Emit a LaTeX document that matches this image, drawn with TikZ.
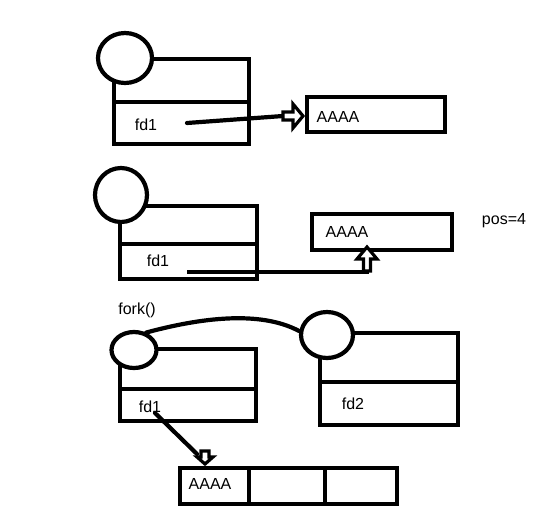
\documentclass[tikz,border=0pt]{standalone}
\usepackage{fontspec}
\setmainfont{Liberation Sans}
\usetikzlibrary{shapes.geometric}
\begin{document}
\begin{tikzpicture}[x=1pt,y=-1pt,
  box/.style={draw, line width=4.2pt, inner sep=0pt, anchor=north west},
  circ/.style={draw, ellipse, line width=4.2pt, fill=white, inner sep=0pt},
  lbl/.style={inner sep=0pt, font=\fontsize{16}{19}\selectfont},
  link/.style={line width=4.2pt, line cap=round},
  hollow/.style={draw, line width=3.2pt, line join=miter, fill=white}]
\useasboundingbox[fill=white] (0,0) rectangle (536,525);

% ---- block 1
\node[box, minimum width=135pt, minimum height=43pt] (r1a) at (112,57) {};
\node[box, minimum width=135pt, minimum height=42pt] (r1b) at (112,100) {};
\node[circ, minimum width=54pt, minimum height=50pt] (c1) at (125,58) {};
\node[box, minimum width=138pt, minimum height=35pt] (b1) at (305,95) {};
\node[lbl] (f1) at (146,125) {fd1};
\node[lbl] (s1) at (338,117) {AAAA};
\coordinate (p1) at (187,123);
\coordinate (h1) at (283,116);
\draw[link] (p1) -- (h1);
\draw[hollow] (283,112) -- (293,112) -- (293,104) -- (303,116) -- (293,128) -- (293,120) -- (283,120) -- cycle;

% ---- block 2
\node[box, minimum width=137pt, minimum height=38pt] (r2a) at (118,204) {};
\node[box, minimum width=137pt, minimum height=35pt] (r2b) at (118,242) {};
\node[circ, minimum width=52pt, minimum height=54pt] (c2) at (121,195) {};
\node[box, minimum width=140pt, minimum height=36pt] (b2) at (310,212) {};
\node[lbl] (f2) at (158,261) {fd1};
\node[lbl] (s2) at (347,232) {AAAA};
\node[lbl] (pos) at (504,221) {pos=4};
\coordinate (p2) at (187,272);
\coordinate (h2) at (367,259);
\draw[link, line cap=butt] (p2) -| (h2);
\draw[hollow] (363.5,271) -- (363.5,259) -- (357,259) -- (367,247) -- (377,259) -- (370.5,259) -- (370.5,271) -- cycle;

% ---- block 3
\node[lbl] (fork) at (137,310) {fork()};
\node[box, minimum width=136pt, minimum height=40pt] (r3a) at (118,347) {};
\node[box, minimum width=136pt, minimum height=32pt] (r3b) at (118,387) {};
\node[box, minimum width=138pt, minimum height=49pt] (r4a) at (318,331) {};
\node[box, minimum width=138pt, minimum height=43pt] (r4b) at (318,380) {};
\node[circ, minimum width=45pt, minimum height=36pt] (c3) at (134,350) {};
\node[circ, minimum width=52pt, minimum height=46pt] (c4) at (327,335) {};
\draw[link] (c3.55) .. controls (200,318) and (260,310) .. (c4.172);
\node[lbl] (f3) at (150,407) {fd1};
\node[lbl] (f4) at (353,404) {fd2};

\node[box, minimum width=69pt, minimum height=36pt] (a1) at (178,466) {};
\node[box, minimum width=76pt, minimum height=36pt] (a2) at (247,466) {};
\node[box, minimum width=72pt, minimum height=36pt] (a3) at (323,466) {};
\node[lbl] (s3) at (210,484) {AAAA};
\coordinate (p3) at (155,413);
\coordinate (h3) at (197,454);
\draw[link] (p3) -- (h3);
\draw[hollow] (201,451) -- (209,451) -- (209,457) -- (213,457) -- (205,464) -- (197,457) -- (201,457) -- cycle;
\end{tikzpicture}
\end{document}
